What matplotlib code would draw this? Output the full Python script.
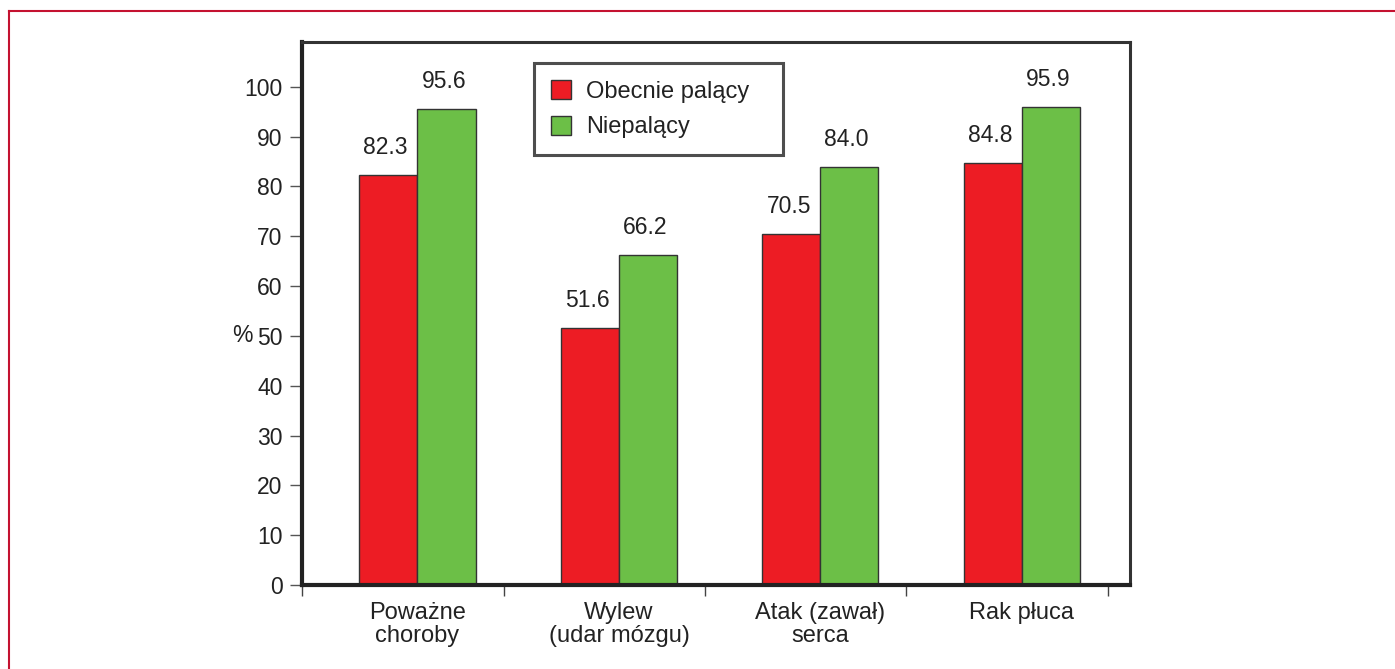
import numpy as np
import matplotlib
matplotlib.use('Agg')
import matplotlib.pyplot as plt
from matplotlib.lines import Line2D

plt.rcParams['font.family'] = ['Liberation Sans', 'DejaVu Sans']

# DATA
categories = ['Poważne\nchoroby', 'Wylew\n(udar mózgu)', 'Atak (zawał)\nserca', 'Rak płuca']
smokers = [82.3, 51.6, 70.5, 84.8]
non_smokers = [95.6, 66.2, 84.0, 95.9]
series_names = ['Obecnie palący', 'Niepalący']
y_ticks = list(range(0, 101, 10))

RED = '#ED1C24'
GREEN = '#6CBF47'
EDGE = '#333333'

fig = plt.figure(figsize=(13.95, 6.69), dpi=100)
ax = fig.add_axes([0.2165, 0.1256, 0.5935, 0.8116])

x = np.arange(len(categories))
w = 0.288
b1 = ax.bar(x - w / 2, smokers, w, color=RED, edgecolor=EDGE, linewidth=1.0, label=series_names[0])
b2 = ax.bar(x + w / 2, non_smokers, w, color=GREEN, edgecolor=EDGE, linewidth=1.0, label=series_names[1])

for bars, vals in ((b1, smokers), (b2, non_smokers)):
    for rect, v in zip(bars, vals):
        ax.annotate(f'{v:.1f}', (rect.get_x() + rect.get_width() / 2, v),
                    xytext=(-2, 15), textcoords='offset points',
                    ha='center', va='baseline', fontsize=16.5, color='#222222')

ax.set_xlim(-0.573, 3.536)
ax.set_ylim(0, 109)

# separators as major ticks, category names on minor ticks
ax.set_xticks(np.arange(len(categories) + 1) - 0.573)
ax.set_xticklabels([])
ax.set_xticks(x, minor=True)
ax.set_xticklabels(categories, minor=True, fontsize=17, color='#222222', linespacing=1.1)
ax.tick_params(axis='x', which='minor', length=0, pad=12)
ax.tick_params(axis='x', which='major', length=8, width=1.0, color='#444444', direction='out')

ax.set_yticks(y_ticks)
ax.tick_params(axis='y', length=9, width=1.0, color='#555555', labelsize=16.5, labelcolor='#222222', pad=5)

ax.set_ylabel('%', rotation=0, fontsize=16.5, color='#222222', va='center', ha='center')
ax.yaxis.set_label_coords(-0.0725, 50 / 109)

for side in ('left', 'bottom'):
    ax.spines[side].set_linewidth(3.0)
    ax.spines[side].set_color('#222222')
for side in ('top', 'right'):
    ax.spines[side].set_linewidth(2.2)
    ax.spines[side].set_color('#333333')

leg = ax.legend(loc='upper left', bbox_to_anchor=(0.280, 0.0, 0.3007, 0.961), mode='expand',
                borderaxespad=0, fontsize=17, frameon=True, fancybox=False, edgecolor='#222222',
                handlelength=0.85, handleheight=0.85, handletextpad=0.65,
                labelspacing=0.55, borderpad=0.72)
leg.get_frame().set_linewidth(2.2)
for t in leg.get_texts():
    t.set_color('#222222')

# thin red frame along the top and left edge of the figure
fig.add_artist(Line2D([9 / 1395, 1.0], [1 - 11 / 669, 1 - 11 / 669], color='#C41230', linewidth=1.5))
fig.add_artist(Line2D([9 / 1395, 9 / 1395], [0.0, 1 - 11 / 669], color='#C41230', linewidth=1.5))

fig.savefig('out.png', dpi=100)
